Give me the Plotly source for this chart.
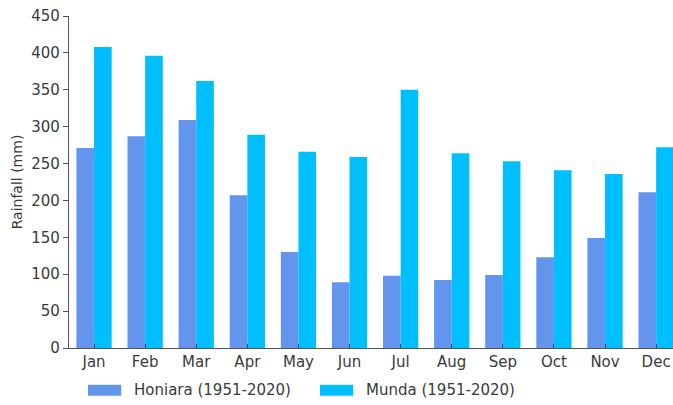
import plotly.graph_objects as go

months = ["Jan", "Feb", "Mar", "Apr", "May", "Jun", "Jul", "Aug", "Sep", "Oct", "Nov", "Dec"]
honiara = [271, 287, 309, 207, 130, 89, 98, 92, 99, 123, 149, 211]
munda = [408, 396, 362, 289, 266, 259, 350, 264, 253, 241, 236, 272]
series_names = ["Honiara (1951-2020)", "Munda (1951-2020)"]
colors = ["#6495ED", "#00BFFF"]
y_ticks = [0, 50, 100, 150, 200, 250, 300, 350, 400, 450]

FONT = "DejaVu Sans"
TXT = "#3a3a3a"

fig = go.Figure()
fig.add_trace(go.Bar(x=months, y=honiara, name=series_names[0], marker_color=colors[0], marker_line_width=0))
fig.add_trace(go.Bar(x=months, y=munda, name=series_names[1], marker_color=colors[1], marker_line_width=0))

fig.update_layout(
    width=673, height=405,
    margin=dict(l=69, r=0, t=16, b=57),
    paper_bgcolor="white", plot_bgcolor="white",
    barmode="group", bargap=0.31, bargroupgap=0,
    showlegend=False,
    font=dict(family=FONT, size=15, color=TXT),
)
fig.update_xaxes(
    range=[-0.49, 11.33], showline=True, linecolor="#555555", linewidth=1.2,
    ticks="inside", ticklen=4, tickcolor="#444444", showgrid=False,
    tickfont=dict(family=FONT, size=15, color=TXT),
)
fig.update_yaxes(
    range=[0, 450], tickvals=y_ticks, showline=True, linecolor="#555555", linewidth=1.2,
    ticks="outside", ticklen=5, tickcolor="#555555", showgrid=False, zeroline=False,
    title=dict(text="Rainfall (mm)", font=dict(family=FONT, size=14, color=TXT), standoff=5),
    tickfont=dict(family=FONT, size=15, color=TXT),
)

# custom legend below the plot
legend_x = [0.0315, 0.4155]
for i, name in enumerate(series_names):
    x0 = legend_x[i]
    fig.add_shape(type="rect", xref="paper", yref="paper",
                  x0=x0, x1=x0 + 0.055, y0=-0.144, y1=-0.111,
                  fillcolor=colors[i], line=dict(width=0))
    fig.add_annotation(xref="paper", yref="paper", x=x0 + 0.073, y=-0.127,
                       text=name, showarrow=False, xanchor="left", yanchor="middle",
                       font=dict(family=FONT, size=15, color=TXT))

fig.write_html("out.html")
